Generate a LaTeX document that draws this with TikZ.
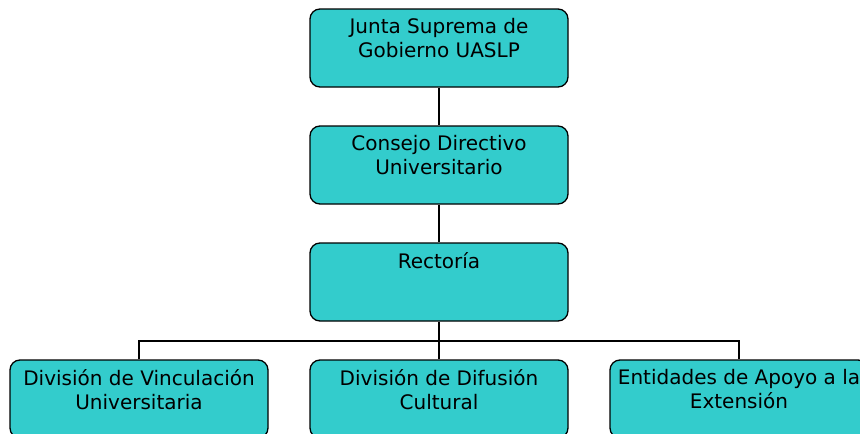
\documentclass[tikz,border=0pt]{standalone}
\usepackage{fontspec}
\setmainfont{DejaVu Sans}
\definecolor{boxfill}{HTML}{33CCCC}
\begin{document}
\begin{tikzpicture}[x=1pt,y=-1pt,
  orgbox/.style={draw=black, line width=1.3pt, fill=boxfill, rounded corners=10pt,
    minimum width=258pt, minimum height=78pt, inner sep=0pt},
  boxtext/.style={anchor=north, align=center, font=\fontsize{20}{24}\selectfont, inner sep=0pt},
  link/.style={line width=1.8pt}]
\useasboundingbox (0,0) rectangle (860,434);
\begin{scope}
\clip (0,0) rectangle (860,434);
\node[orgbox] (junta) at (439,48) {};
\node[orgbox] (consejo) at (439,165) {};
\node[orgbox] (rectoria) at (439,282) {};
\node[orgbox] (vinc) at (139,399) {};
\node[orgbox] (difu) at (439,399) {};
\node[orgbox] (apoyo) at (739,399) {};
\coordinate (busl) at (139,341);
\coordinate (busr) at (739,341);
\draw[link] (junta.south) -- (consejo.north);
\draw[link] (consejo.south) -- (rectoria.north);
\draw[link] (rectoria.south) -- (difu.north);
\draw[link] (vinc.north) -- (busl) -- (busr) -- (apoyo.north);
\node[boxtext] (tjunta) at ([yshift=-9.5pt]junta.north) {Junta Suprema de\\Gobierno UASLP};
\node[boxtext] (tconsejo) at ([yshift=-9.5pt]consejo.north) {Consejo Directivo\\Universitario};
\node[boxtext] (trect) at ([yshift=-9.5pt]rectoria.north) {Rectoría};
\node[boxtext] (tvinc) at ([yshift=-9.5pt]vinc.north) {División de Vinculación\\Universitaria};
\node[boxtext] (tdifu) at ([yshift=-9.5pt]difu.north) {División de Difusión\\Cultural};
\node[boxtext] (tapoyo) at ([yshift=-9.5pt]apoyo.north) {Entidades de Apoyo a la\\Extensión};
\end{scope}
\end{tikzpicture}
\end{document}
